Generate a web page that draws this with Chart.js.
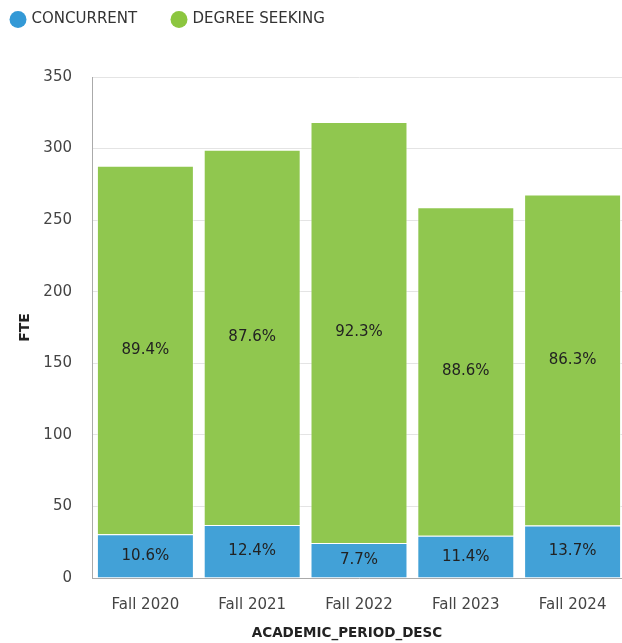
<!DOCTYPE html>
<html>
<head>
<meta charset="utf-8">
<script src="https://cdn.jsdelivr.net/npm/chart.js@4/dist/chart.umd.min.js"></script>
<style>
html,body{margin:0;padding:0;background:#fff;overflow:hidden;}
#wrap{width:626px;height:643px;position:relative;}
</style>
</head>
<body>
<div id="wrap"><canvas id="c"></canvas></div>
<script>
const categories = ["Fall 2020", "Fall 2021", "Fall 2022", "Fall 2023", "Fall 2024"];
const concurrent = [30.5, 37.1, 24.5, 29.5, 36.7];
const degreeSeeking = [257.5, 262.1, 294.0, 229.5, 231.2];
const yTicks = [0, 50, 100, 150, 200, 250, 300, 350];
const seriesNames = ["CONCURRENT", "DEGREE SEEKING"];
const xTitle = "ACADEMIC_PERIOD_DESC";
const yTitle = "FTE";

const totals = categories.map((_, i) => concurrent[i] + degreeSeeking[i]);
const FONT = '"DejaVu Sans"';

const pctLabels = {
  id: 'pctLabels',
  afterDatasetsDraw(chart) {
    const ctx = chart.ctx;
    ctx.save();
    ctx.font = '15px ' + FONT;
    ctx.fillStyle = '#222';
    ctx.textAlign = 'center';
    ctx.textBaseline = 'middle';
    chart.data.datasets.forEach((ds, di) => {
      const meta = chart.getDatasetMeta(di);
      meta.data.forEach((bar, i) => {
        const pct = (ds.data[i] / totals[i] * 100).toFixed(1) + '%';
        const mid = (bar.y + bar.base) / 2;
        ctx.fillText(pct, bar.x, mid);
      });
    });
    ctx.restore();
  }
};

const legendSpace = {
  id: 'legendSpace',
  beforeInit(chart) {
    const orig = chart.legend.fit;
    chart.legend.fit = function () {
      orig.call(this);
      this.height += 40;
    };
  }
};

const xTitlePlugin = {
  id: 'xTitlePlugin',
  afterDraw(chart) {
    const ctx = chart.ctx;
    const a = chart.chartArea;
    ctx.save();
    ctx.font = 'bold 13.5px ' + FONT;
    ctx.fillStyle = '#222';
    ctx.textAlign = 'center';
    ctx.textBaseline = 'middle';
    ctx.fillText(xTitle, (a.left + a.right) / 2 - 12, chart.height - 10);
    ctx.restore();
  }
};

new Chart(document.getElementById('c'), {
  type: 'bar',
  data: {
    labels: categories,
    datasets: [
      { label: seriesNames[0], data: concurrent, backgroundColor: '#42a1d7', borderColor: 'rgba(255,255,255,0.45)', borderWidth: 1, barPercentage: 0.908, categoryPercentage: 1.0 },
      { label: seriesNames[1], data: degreeSeeking, backgroundColor: '#90c74f', borderColor: 'rgba(255,255,255,0.45)', borderWidth: 1, barPercentage: 0.908, categoryPercentage: 1.0 }
    ]
  },
  options: {
    responsive: true,
    maintainAspectRatio: false,
    animation: false,
    layout: { padding: 0 },
    plugins: {
      legend: {
        position: 'top',
        align: 'start',
        labels: {
          usePointStyle: true,
          pointStyle: 'circle',
          boxWidth: 12,
          boxHeight: 12,
          padding: 12,
          color: '#333',
          font: { family: FONT, size: 15 },
          generateLabels(chart) {
            const items = Chart.defaults.plugins.legend.labels.generateLabels(chart);
            items.forEach((it, i) => {
              it.fillStyle = i === 0 ? '#3399d6' : '#8cc63f';
              it.strokeStyle = it.fillStyle;
              it.lineWidth = 0;
              if (i === 0) it.text = it.text + '     ';
            });
            return items;
          }
        }
      },
      tooltip: { enabled: false }
    },
    scales: {
      x: {
        stacked: true,
        grid: { display: false, drawTicks: false },
        border: { color: '#aaa', width: 1 },
        ticks: { color: '#444', padding: 18, font: { family: FONT, size: 15 } },
        title: { display: false },
        afterFit: (scale) => { scale.height = 65; }
      },
      y: {
        stacked: true,
        min: 0,
        max: 350,
        afterBuildTicks: (axis) => { axis.ticks = yTicks.map(v => ({ value: v })); },
        grid: { color: '#e4e4e4', drawTicks: false },
        border: { color: '#aaa', width: 1 },
        ticks: { color: '#444', padding: 20, font: { family: FONT, size: 15 } },
        title: { display: true, text: yTitle, color: '#222', font: { family: FONT, size: 14, weight: 'bold' }, padding: { top: 16.6, bottom: 0 } },
        afterFit: (scale) => { scale.width = 92; }
      }
    }
  },
  plugins: [legendSpace, pctLabels, xTitlePlugin]
});
</script>
</body>
</html>
